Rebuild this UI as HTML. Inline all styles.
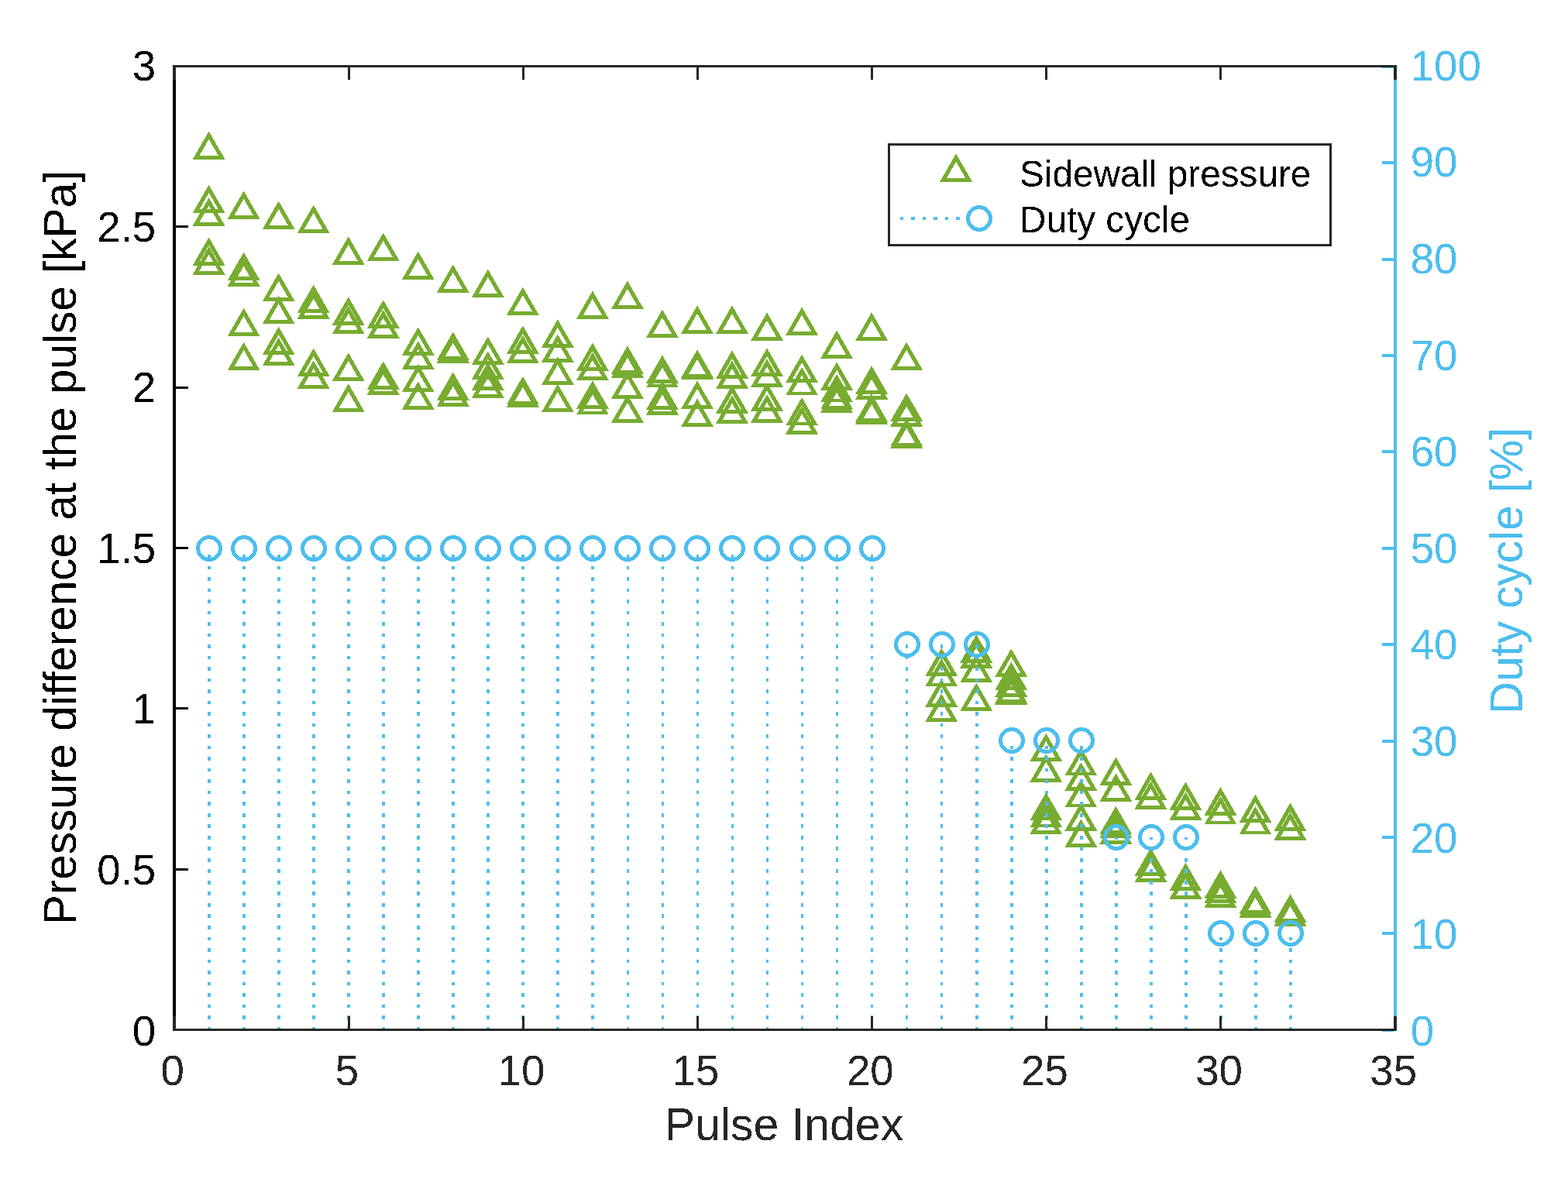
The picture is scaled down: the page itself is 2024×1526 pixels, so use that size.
<!DOCTYPE html>
<html><head><meta charset="utf-8"><title>Pulse plot</title>
<style>html,body{margin:0;padding:0;background:#fff;}svg{display:block;} .ce{shape-rendering:crispEdges;}text{font-family:"Liberation Sans",Arial,Helvetica,sans-serif;}</style>
</head><body>
<svg width="2024" height="1526" viewBox="0 0 2024 1526">
<defs><filter id="bin" x="0" y="0" width="100%" height="100%" color-interpolation-filters="sRGB"><feComponentTransfer><feFuncA type="discrete" tableValues="0 1"/></feComponentTransfer></filter></defs>
<rect width="2024" height="1526" fill="#fff"/>
<g shape-rendering="crispEdges">
<path d="M269.61 169.40L248.66 205.80H290.56ZM269.61 179.75L281.86 201.05H257.36ZM269.61 238.60L248.66 275.00H290.56ZM269.61 248.95L281.86 270.25H257.36ZM269.61 255.30L248.66 291.70H290.56ZM269.61 265.65L281.86 286.95H257.36ZM269.61 306.40L248.66 342.80H290.56ZM269.61 316.75L281.86 338.05H257.36ZM269.61 318.10L248.66 354.50H290.56ZM269.61 328.45L281.86 349.75H257.36ZM314.64 246.40L293.69 282.80H335.59ZM314.64 256.75L326.89 278.05H302.39ZM314.64 325.60L293.69 362.00H335.59ZM314.64 335.95L326.89 357.25H302.39ZM314.64 333.20L293.69 369.60H335.59ZM314.64 343.55L326.89 364.85H302.39ZM314.64 397.70L293.69 434.10H335.59ZM314.64 408.05L326.89 429.35H302.39ZM314.64 441.60L293.69 478.00H335.59ZM314.64 451.95L326.89 473.25H302.39ZM359.67 259.50L338.72 295.90H380.62ZM359.67 269.85L371.92 291.15H347.42ZM359.67 352.50L338.72 388.90H380.62ZM359.67 362.85L371.92 384.15H347.42ZM359.67 381.80L338.72 418.20H380.62ZM359.67 392.15L371.92 413.45H347.42ZM359.67 421.70L338.72 458.10H380.62ZM359.67 432.05L371.92 453.35H347.42ZM359.67 435.60L338.72 472.00H380.62ZM359.67 445.95L371.92 467.25H347.42ZM404.69 264.60L383.74 301.00H425.64ZM404.69 274.95L416.94 296.25H392.44ZM404.69 367.60L383.74 404.00H425.64ZM404.69 377.95L416.94 399.25H392.44ZM404.69 375.20L383.74 411.60H425.64ZM404.69 385.55L416.94 406.85H392.44ZM404.69 449.50L383.74 485.90H425.64ZM404.69 459.85L416.94 481.15H392.44ZM404.69 465.40L383.74 501.80H425.64ZM404.69 475.75L416.94 497.05H392.44ZM449.72 305.40L428.77 341.80H470.67ZM449.72 315.75L461.97 337.05H437.47ZM449.72 383.40L428.77 419.80H470.67ZM449.72 393.75L461.97 415.05H437.47ZM449.72 394.70L428.77 431.10H470.67ZM449.72 405.05L461.97 426.35H437.47ZM449.72 455.40L428.77 491.80H470.67ZM449.72 465.75L461.97 487.05H437.47ZM449.72 495.40L428.77 531.80H470.67ZM449.72 505.75L461.97 527.05H437.47ZM494.75 300.50L473.80 336.90H515.70ZM494.75 310.85L507.00 332.15H482.50ZM494.75 387.40L473.80 423.80H515.70ZM494.75 397.75L507.00 419.05H482.50ZM494.75 400.20L473.80 436.60H515.70ZM494.75 410.55L507.00 431.85H482.50ZM494.75 466.40L473.80 502.80H515.70ZM494.75 476.75L507.00 498.05H482.50ZM494.75 473.20L473.80 509.60H515.70ZM494.75 483.55L507.00 504.85H482.50ZM539.78 324.50L518.83 360.90H560.73ZM539.78 334.85L552.03 356.15H527.53ZM539.78 422.30L518.83 458.70H560.73ZM539.78 432.65L552.03 453.95H527.53ZM539.78 440.30L518.83 476.70H560.73ZM539.78 450.65L552.03 471.95H527.53ZM539.78 469.70L518.83 506.10H560.73ZM539.78 480.05L552.03 501.35H527.53ZM539.78 492.40L518.83 528.80H560.73ZM539.78 502.75L552.03 524.05H527.53ZM584.81 341.40L563.86 377.80H605.76ZM584.81 351.75L597.06 373.05H572.56ZM584.81 428.40L563.86 464.80H605.76ZM584.81 438.75L597.06 460.05H572.56ZM584.81 432.20L563.86 468.60H605.76ZM584.81 442.55L597.06 463.85H572.56ZM584.81 480.40L563.86 516.80H605.76ZM584.81 490.75L597.06 512.05H572.56ZM584.81 488.40L563.86 524.80H605.76ZM584.81 498.75L597.06 520.05H572.56ZM629.84 347.50L608.89 383.90H650.79ZM629.84 357.85L642.09 379.15H617.59ZM629.84 434.40L608.89 470.80H650.79ZM629.84 444.75L642.09 466.05H617.59ZM629.84 453.40L608.89 489.80H650.79ZM629.84 463.75L642.09 485.05H617.59ZM629.84 467.40L608.89 503.80H650.79ZM629.84 477.75L642.09 499.05H617.59ZM629.84 477.40L608.89 513.80H650.79ZM629.84 487.75L642.09 509.05H617.59ZM674.87 370.60L653.92 407.00H695.82ZM674.87 380.95L687.12 402.25H662.62ZM674.87 420.40L653.92 456.80H695.82ZM674.87 430.75L687.12 452.05H662.62ZM674.87 432.70L653.92 469.10H695.82ZM674.87 443.05L687.12 464.35H662.62ZM674.87 485.90L653.92 522.30H695.82ZM674.87 496.25L687.12 517.55H662.62ZM674.87 489.40L653.92 525.80H695.82ZM674.87 499.75L687.12 521.05H662.62ZM719.89 412.40L698.94 448.80H740.84ZM719.89 422.75L732.14 444.05H707.64ZM719.89 431.50L698.94 467.90H740.84ZM719.89 441.85L732.14 463.15H707.64ZM719.89 460.40L698.94 496.80H740.84ZM719.89 470.75L732.14 492.05H707.64ZM719.89 495.70L698.94 532.10H740.84ZM719.89 506.05L732.14 527.35H707.64ZM764.92 375.40L743.97 411.80H785.87ZM764.92 385.75L777.17 407.05H752.67ZM764.92 442.50L743.97 478.90H785.87ZM764.92 452.85L777.17 474.15H752.67ZM764.92 454.70L743.97 491.10H785.87ZM764.92 465.05L777.17 486.35H752.67ZM764.92 491.40L743.97 527.80H785.87ZM764.92 501.75L777.17 523.05H752.67ZM764.92 498.90L743.97 535.30H785.87ZM764.92 509.25L777.17 530.55H752.67ZM809.95 362.50L789.00 398.90H830.90ZM809.95 372.85L822.20 394.15H797.70ZM809.95 446.40L789.00 482.80H830.90ZM809.95 456.75L822.20 478.05H797.70ZM809.95 451.30L789.00 487.70H830.90ZM809.95 461.65L822.20 482.95H797.70ZM809.95 478.40L789.00 514.80H830.90ZM809.95 488.75L822.20 510.05H797.70ZM809.95 509.40L789.00 545.80H830.90ZM809.95 519.75L822.20 541.05H797.70ZM854.98 399.60L834.03 436.00H875.93ZM854.98 409.95L867.23 431.25H842.73ZM854.98 458.40L834.03 494.80H875.93ZM854.98 468.75L867.23 490.05H842.73ZM854.98 463.90L834.03 500.30H875.93ZM854.98 474.25L867.23 495.55H842.73ZM854.98 492.60L834.03 529.00H875.93ZM854.98 502.95L867.23 524.25H842.73ZM854.98 499.10L834.03 535.50H875.93ZM854.98 509.45L867.23 530.75H842.73ZM900.01 394.40L879.06 430.80H920.96ZM900.01 404.75L912.26 426.05H887.76ZM900.01 451.40L879.06 487.80H920.96ZM900.01 461.75L912.26 483.05H887.76ZM900.01 453.40L879.06 489.80H920.96ZM900.01 463.75L912.26 485.05H887.76ZM900.01 491.50L879.06 527.90H920.96ZM900.01 501.85L912.26 523.15H887.76ZM900.01 514.50L879.06 550.90H920.96ZM900.01 524.85L912.26 546.15H887.76ZM945.04 394.40L924.09 430.80H965.99ZM945.04 404.75L957.29 426.05H932.79ZM945.04 452.40L924.09 488.80H965.99ZM945.04 462.75L957.29 484.05H932.79ZM945.04 465.40L924.09 501.80H965.99ZM945.04 475.75L957.29 497.05H932.79ZM945.04 497.30L924.09 533.70H965.99ZM945.04 507.65L957.29 528.95H932.79ZM945.04 510.20L924.09 546.60H965.99ZM945.04 520.55L957.29 541.85H932.79ZM990.07 403.40L969.12 439.80H1011.02ZM990.07 413.75L1002.32 435.05H977.82ZM990.07 449.50L969.12 485.90H1011.02ZM990.07 459.85L1002.32 481.15H977.82ZM990.07 463.30L969.12 499.70H1011.02ZM990.07 473.65L1002.32 494.95H977.82ZM990.07 494.10L969.12 530.50H1011.02ZM990.07 504.45L1002.32 525.75H977.82ZM990.07 509.10L969.12 545.50H1011.02ZM990.07 519.45L1002.32 540.75H977.82ZM1035.09 396.40L1014.14 432.80H1056.04ZM1035.09 406.75L1047.34 428.05H1022.84ZM1035.09 457.60L1014.14 494.00H1056.04ZM1035.09 467.95L1047.34 489.25H1022.84ZM1035.09 474.00L1014.14 510.40H1056.04ZM1035.09 484.35L1047.34 505.65H1022.84ZM1035.09 513.00L1014.14 549.40H1056.04ZM1035.09 523.35L1047.34 544.65H1022.84ZM1035.09 524.10L1014.14 560.50H1056.04ZM1035.09 534.45L1047.34 555.75H1022.84ZM1080.12 426.60L1059.17 463.00H1101.07ZM1080.12 436.95L1092.37 458.25H1067.87ZM1080.12 467.40L1059.17 503.80H1101.07ZM1080.12 477.75L1092.37 499.05H1067.87ZM1080.12 482.90L1059.17 519.30H1101.07ZM1080.12 493.25L1092.37 514.55H1067.87ZM1080.12 491.90L1059.17 528.30H1101.07ZM1080.12 502.25L1092.37 523.55H1067.87ZM1080.12 496.40L1059.17 532.80H1101.07ZM1080.12 506.75L1092.37 528.05H1067.87ZM1125.15 403.40L1104.20 439.80H1146.10ZM1125.15 413.75L1137.40 435.05H1112.90ZM1125.15 472.40L1104.20 508.80H1146.10ZM1125.15 482.75L1137.40 504.05H1112.90ZM1125.15 479.10L1104.20 515.50H1146.10ZM1125.15 489.45L1137.40 510.75H1112.90ZM1125.15 508.40L1104.20 544.80H1146.10ZM1125.15 518.75L1137.40 540.05H1112.90ZM1125.15 511.40L1104.20 547.80H1146.10ZM1125.15 521.75L1137.40 543.05H1112.90ZM1170.18 441.50L1149.23 477.90H1191.13ZM1170.18 451.85L1182.43 473.15H1157.93ZM1170.18 507.50L1149.23 543.90H1191.13ZM1170.18 517.85L1182.43 539.15H1157.93ZM1170.18 514.30L1149.23 550.70H1191.13ZM1170.18 524.65L1182.43 545.95H1157.93ZM1170.18 539.90L1149.23 576.30H1191.13ZM1170.18 550.25L1182.43 571.55H1157.93ZM1170.18 542.40L1149.23 578.80H1191.13ZM1170.18 552.75L1182.43 574.05H1157.93ZM1215.21 836.60L1194.26 873.00H1236.16ZM1215.21 846.95L1227.46 868.25H1202.96ZM1215.21 849.90L1194.26 886.30H1236.16ZM1215.21 860.25L1227.46 881.55H1202.96ZM1215.21 876.10L1194.26 912.50H1236.16ZM1215.21 886.45L1227.46 907.75H1202.96ZM1215.21 895.40L1194.26 931.80H1236.16ZM1215.21 905.75L1227.46 927.05H1202.96ZM1260.24 819.10L1239.29 855.50H1281.19ZM1260.24 829.45L1272.49 850.75H1247.99ZM1260.24 826.10L1239.29 862.50H1281.19ZM1260.24 836.45L1272.49 857.75H1247.99ZM1260.24 844.50L1239.29 880.90H1281.19ZM1260.24 854.85L1272.49 876.15H1247.99ZM1260.24 881.50L1239.29 917.90H1281.19ZM1260.24 891.85L1272.49 913.15H1247.99ZM1305.27 837.40L1284.32 873.80H1326.22ZM1305.27 847.75L1317.52 869.05H1293.02ZM1305.27 854.50L1284.32 890.90H1326.22ZM1305.27 864.85L1317.52 886.15H1293.02ZM1305.27 863.30L1284.32 899.70H1326.22ZM1305.27 873.65L1317.52 894.95H1293.02ZM1305.27 871.40L1284.32 907.80H1326.22ZM1305.27 881.75L1317.52 903.05H1293.02ZM1305.27 873.10L1284.32 909.50H1326.22ZM1305.27 883.45L1317.52 904.75H1293.02ZM1350.29 946.70L1329.34 983.10H1371.24ZM1350.29 957.05L1362.54 978.35H1338.04ZM1350.29 973.40L1329.34 1009.80H1371.24ZM1350.29 983.75L1362.54 1005.05H1338.04ZM1350.29 1023.00L1329.34 1059.40H1371.24ZM1350.29 1033.35L1362.54 1054.65H1338.04ZM1350.29 1031.90L1329.34 1068.30H1371.24ZM1350.29 1042.25L1362.54 1063.55H1338.04ZM1350.29 1040.60L1329.34 1077.00H1371.24ZM1350.29 1050.95L1362.54 1072.25H1338.04ZM1395.32 965.00L1374.37 1001.40H1416.27ZM1395.32 975.35L1407.57 996.65H1383.07ZM1395.32 984.20L1374.37 1020.60H1416.27ZM1395.32 994.55L1407.57 1015.85H1383.07ZM1395.32 1006.00L1374.37 1042.40H1416.27ZM1395.32 1016.35L1407.57 1037.65H1383.07ZM1395.32 1036.10L1374.37 1072.50H1416.27ZM1395.32 1046.45L1407.57 1067.75H1383.07ZM1395.32 1057.40L1374.37 1093.80H1416.27ZM1395.32 1067.75L1407.57 1089.05H1383.07ZM1440.35 977.40L1419.40 1013.80H1461.30ZM1440.35 987.75L1452.60 1009.05H1428.10ZM1440.35 998.40L1419.40 1034.80H1461.30ZM1440.35 1008.75L1452.60 1030.05H1428.10ZM1440.35 1040.70L1419.40 1077.10H1461.30ZM1440.35 1051.05L1452.60 1072.35H1428.10ZM1440.35 1045.60L1419.40 1082.00H1461.30ZM1440.35 1055.95L1452.60 1077.25H1428.10ZM1440.35 1053.20L1419.40 1089.60H1461.30ZM1440.35 1063.55L1452.60 1084.85H1428.10ZM1485.38 996.50L1464.43 1032.90H1506.33ZM1485.38 1006.85L1497.63 1028.15H1473.13ZM1485.38 1008.40L1464.43 1044.80H1506.33ZM1485.38 1018.75L1497.63 1040.05H1473.13ZM1485.38 1094.70L1464.43 1131.10H1506.33ZM1485.38 1105.05L1497.63 1126.35H1473.13ZM1485.38 1102.50L1464.43 1138.90H1506.33ZM1485.38 1112.85L1497.63 1134.15H1473.13ZM1530.41 1009.40L1509.46 1045.80H1551.36ZM1530.41 1019.75L1542.66 1041.05H1518.16ZM1530.41 1022.30L1509.46 1058.70H1551.36ZM1530.41 1032.65L1542.66 1053.95H1518.16ZM1530.41 1113.80L1509.46 1150.20H1551.36ZM1530.41 1124.15L1542.66 1145.45H1518.16ZM1530.41 1124.30L1509.46 1160.70H1551.36ZM1530.41 1134.65L1542.66 1155.95H1518.16ZM1575.44 1016.20L1554.49 1052.60H1596.39ZM1575.44 1026.55L1587.69 1047.85H1563.19ZM1575.44 1027.90L1554.49 1064.30H1596.39ZM1575.44 1038.25L1587.69 1059.55H1563.19ZM1575.44 1123.40L1554.49 1159.80H1596.39ZM1575.44 1133.75L1587.69 1155.05H1563.19ZM1575.44 1129.40L1554.49 1165.80H1596.39ZM1575.44 1139.75L1587.69 1161.05H1563.19ZM1575.44 1135.40L1554.49 1171.80H1596.39ZM1575.44 1145.75L1587.69 1167.05H1563.19ZM1620.47 1025.60L1599.52 1062.00H1641.42ZM1620.47 1035.95L1632.72 1057.25H1608.22ZM1620.47 1041.00L1599.52 1077.40H1641.42ZM1620.47 1051.35L1632.72 1072.65H1608.22ZM1620.47 1143.50L1599.52 1179.90H1641.42ZM1620.47 1153.85L1632.72 1175.15H1608.22ZM1620.47 1148.40L1599.52 1184.80H1641.42ZM1620.47 1158.75L1632.72 1180.05H1608.22ZM1665.49 1036.50L1644.54 1072.90H1686.44ZM1665.49 1046.85L1677.74 1068.15H1653.24ZM1665.49 1048.20L1644.54 1084.60H1686.44ZM1665.49 1058.55L1677.74 1079.85H1653.24ZM1665.49 1154.40L1644.54 1190.80H1686.44ZM1665.49 1164.75L1677.74 1186.05H1653.24ZM1665.49 1159.40L1644.54 1195.80H1686.44ZM1665.49 1169.75L1677.74 1191.05H1653.24Z" fill="#77ac30" fill-rule="nonzero"/>
<line x1="270.03" y1="1330.2" x2="270.03" y2="707.50" stroke="#4dbeee" stroke-width="3.7" stroke-dasharray="4.6 9.91"/>
<line x1="315.06" y1="1330.2" x2="315.06" y2="707.50" stroke="#4dbeee" stroke-width="3.7" stroke-dasharray="4.6 9.91"/>
<line x1="360.09" y1="1330.2" x2="360.09" y2="707.50" stroke="#4dbeee" stroke-width="3.7" stroke-dasharray="4.6 9.91"/>
<line x1="405.11" y1="1330.2" x2="405.11" y2="707.50" stroke="#4dbeee" stroke-width="3.7" stroke-dasharray="4.6 9.91"/>
<line x1="450.14" y1="1330.2" x2="450.14" y2="707.50" stroke="#4dbeee" stroke-width="3.7" stroke-dasharray="4.6 9.91"/>
<line x1="495.17" y1="1330.2" x2="495.17" y2="707.50" stroke="#4dbeee" stroke-width="3.7" stroke-dasharray="4.6 9.91"/>
<line x1="540.20" y1="1330.2" x2="540.20" y2="707.50" stroke="#4dbeee" stroke-width="3.7" stroke-dasharray="4.6 9.91"/>
<line x1="585.23" y1="1330.2" x2="585.23" y2="707.50" stroke="#4dbeee" stroke-width="3.7" stroke-dasharray="4.6 9.91"/>
<line x1="630.26" y1="1330.2" x2="630.26" y2="707.50" stroke="#4dbeee" stroke-width="3.7" stroke-dasharray="4.6 9.91"/>
<line x1="675.29" y1="1330.2" x2="675.29" y2="707.50" stroke="#4dbeee" stroke-width="3.7" stroke-dasharray="4.6 9.91"/>
<line x1="720.31" y1="1330.2" x2="720.31" y2="707.50" stroke="#4dbeee" stroke-width="3.7" stroke-dasharray="4.6 9.91"/>
<line x1="765.34" y1="1330.2" x2="765.34" y2="707.50" stroke="#4dbeee" stroke-width="3.7" stroke-dasharray="4.6 9.91"/>
<line x1="810.37" y1="1330.2" x2="810.37" y2="707.50" stroke="#4dbeee" stroke-width="3.7" stroke-dasharray="4.6 9.91"/>
<line x1="855.40" y1="1330.2" x2="855.40" y2="707.50" stroke="#4dbeee" stroke-width="3.7" stroke-dasharray="4.6 9.91"/>
<line x1="900.43" y1="1330.2" x2="900.43" y2="707.50" stroke="#4dbeee" stroke-width="3.7" stroke-dasharray="4.6 9.91"/>
<line x1="945.46" y1="1330.2" x2="945.46" y2="707.50" stroke="#4dbeee" stroke-width="3.7" stroke-dasharray="4.6 9.91"/>
<line x1="990.49" y1="1330.2" x2="990.49" y2="707.50" stroke="#4dbeee" stroke-width="3.7" stroke-dasharray="4.6 9.91"/>
<line x1="1035.51" y1="1330.2" x2="1035.51" y2="707.50" stroke="#4dbeee" stroke-width="3.7" stroke-dasharray="4.6 9.91"/>
<line x1="1080.54" y1="1330.2" x2="1080.54" y2="707.50" stroke="#4dbeee" stroke-width="3.7" stroke-dasharray="4.6 9.91"/>
<line x1="1125.57" y1="1330.2" x2="1125.57" y2="707.50" stroke="#4dbeee" stroke-width="3.7" stroke-dasharray="4.6 9.91"/>
<line x1="1170.60" y1="1330.2" x2="1170.60" y2="831.90" stroke="#4dbeee" stroke-width="3.7" stroke-dasharray="4.6 9.91"/>
<line x1="1215.63" y1="1330.2" x2="1215.63" y2="831.90" stroke="#4dbeee" stroke-width="3.7" stroke-dasharray="4.6 9.91"/>
<line x1="1260.66" y1="1330.2" x2="1260.66" y2="831.90" stroke="#4dbeee" stroke-width="3.7" stroke-dasharray="4.6 9.91"/>
<line x1="1305.69" y1="1330.2" x2="1305.69" y2="956.30" stroke="#4dbeee" stroke-width="3.7" stroke-dasharray="4.6 9.91"/>
<line x1="1350.71" y1="1330.2" x2="1350.71" y2="956.30" stroke="#4dbeee" stroke-width="3.7" stroke-dasharray="4.6 9.91"/>
<line x1="1395.74" y1="1330.2" x2="1395.74" y2="956.30" stroke="#4dbeee" stroke-width="3.7" stroke-dasharray="4.6 9.91"/>
<line x1="1440.77" y1="1330.2" x2="1440.77" y2="1080.70" stroke="#4dbeee" stroke-width="3.7" stroke-dasharray="4.6 9.91"/>
<line x1="1485.80" y1="1330.2" x2="1485.80" y2="1080.70" stroke="#4dbeee" stroke-width="3.7" stroke-dasharray="4.6 9.91"/>
<line x1="1530.83" y1="1330.2" x2="1530.83" y2="1080.70" stroke="#4dbeee" stroke-width="3.7" stroke-dasharray="4.6 9.91"/>
<line x1="1575.86" y1="1330.2" x2="1575.86" y2="1205.10" stroke="#4dbeee" stroke-width="3.7" stroke-dasharray="4.6 9.91"/>
<line x1="1620.89" y1="1330.2" x2="1620.89" y2="1205.10" stroke="#4dbeee" stroke-width="3.7" stroke-dasharray="4.6 9.91"/>
<line x1="1665.91" y1="1330.2" x2="1665.91" y2="1205.10" stroke="#4dbeee" stroke-width="3.7" stroke-dasharray="4.6 9.91"/>
<circle cx="270" cy="708" r="14.5" fill="none" stroke="#4dbeee" stroke-width="5.0"/>
<circle cx="315" cy="708" r="14.5" fill="none" stroke="#4dbeee" stroke-width="5.0"/>
<circle cx="360" cy="708" r="14.5" fill="none" stroke="#4dbeee" stroke-width="5.0"/>
<circle cx="405" cy="708" r="14.5" fill="none" stroke="#4dbeee" stroke-width="5.0"/>
<circle cx="450" cy="708" r="14.5" fill="none" stroke="#4dbeee" stroke-width="5.0"/>
<circle cx="495" cy="708" r="14.5" fill="none" stroke="#4dbeee" stroke-width="5.0"/>
<circle cx="540" cy="708" r="14.5" fill="none" stroke="#4dbeee" stroke-width="5.0"/>
<circle cx="585" cy="708" r="14.5" fill="none" stroke="#4dbeee" stroke-width="5.0"/>
<circle cx="630" cy="708" r="14.5" fill="none" stroke="#4dbeee" stroke-width="5.0"/>
<circle cx="675" cy="708" r="14.5" fill="none" stroke="#4dbeee" stroke-width="5.0"/>
<circle cx="720" cy="708" r="14.5" fill="none" stroke="#4dbeee" stroke-width="5.0"/>
<circle cx="765" cy="708" r="14.5" fill="none" stroke="#4dbeee" stroke-width="5.0"/>
<circle cx="810" cy="708" r="14.5" fill="none" stroke="#4dbeee" stroke-width="5.0"/>
<circle cx="855" cy="708" r="14.5" fill="none" stroke="#4dbeee" stroke-width="5.0"/>
<circle cx="900" cy="708" r="14.5" fill="none" stroke="#4dbeee" stroke-width="5.0"/>
<circle cx="945" cy="708" r="14.5" fill="none" stroke="#4dbeee" stroke-width="5.0"/>
<circle cx="990" cy="708" r="14.5" fill="none" stroke="#4dbeee" stroke-width="5.0"/>
<circle cx="1036" cy="708" r="14.5" fill="none" stroke="#4dbeee" stroke-width="5.0"/>
<circle cx="1081" cy="708" r="14.5" fill="none" stroke="#4dbeee" stroke-width="5.0"/>
<circle cx="1126" cy="708" r="14.5" fill="none" stroke="#4dbeee" stroke-width="5.0"/>
<circle cx="1171" cy="832" r="14.5" fill="none" stroke="#4dbeee" stroke-width="5.0"/>
<circle cx="1216" cy="832" r="14.5" fill="none" stroke="#4dbeee" stroke-width="5.0"/>
<circle cx="1261" cy="832" r="14.5" fill="none" stroke="#4dbeee" stroke-width="5.0"/>
<circle cx="1306" cy="956" r="14.5" fill="none" stroke="#4dbeee" stroke-width="5.0"/>
<circle cx="1351" cy="956" r="14.5" fill="none" stroke="#4dbeee" stroke-width="5.0"/>
<circle cx="1396" cy="956" r="14.5" fill="none" stroke="#4dbeee" stroke-width="5.0"/>
<circle cx="1441" cy="1081" r="14.5" fill="none" stroke="#4dbeee" stroke-width="5.0"/>
<circle cx="1486" cy="1081" r="14.5" fill="none" stroke="#4dbeee" stroke-width="5.0"/>
<circle cx="1531" cy="1081" r="14.5" fill="none" stroke="#4dbeee" stroke-width="5.0"/>
<circle cx="1576" cy="1205" r="14.5" fill="none" stroke="#4dbeee" stroke-width="5.0"/>
<circle cx="1621" cy="1205" r="14.5" fill="none" stroke="#4dbeee" stroke-width="5.0"/>
<circle cx="1666" cy="1205" r="14.5" fill="none" stroke="#4dbeee" stroke-width="5.0"/>
<rect x="223" y="84" width="4" height="1247" fill="#000"/>
<rect x="227" y="1328" width="16" height="3" fill="#000"/>
<rect x="227" y="1121" width="16" height="3" fill="#000"/>
<rect x="227" y="913" width="16" height="3" fill="#000"/>
<rect x="227" y="706" width="16" height="3" fill="#000"/>
<rect x="227" y="499" width="16" height="3" fill="#000"/>
<rect x="227" y="291" width="16" height="3" fill="#000"/>
<rect x="227" y="84" width="16" height="3" fill="#000"/>
<rect x="1799" y="84" width="4" height="1247" fill="#4dbeee"/>
<rect x="1784" y="1328" width="15" height="4" fill="#4dbeee"/>
<rect x="1784" y="1203" width="15" height="4" fill="#4dbeee"/>
<rect x="1784" y="1079" width="15" height="4" fill="#4dbeee"/>
<rect x="1784" y="955" width="15" height="4" fill="#4dbeee"/>
<rect x="1784" y="830" width="15" height="4" fill="#4dbeee"/>
<rect x="1784" y="706" width="15" height="4" fill="#4dbeee"/>
<rect x="1784" y="581" width="15" height="4" fill="#4dbeee"/>
<rect x="1784" y="457" width="15" height="4" fill="#4dbeee"/>
<rect x="1784" y="333" width="15" height="4" fill="#4dbeee"/>
<rect x="1784" y="208" width="15" height="4" fill="#4dbeee"/>
<rect x="1784" y="84" width="15" height="4" fill="#4dbeee"/>
<rect x="223" y="84" width="1580" height="3" fill="#262626"/>
<rect x="223" y="1328" width="1580" height="3" fill="#262626"/>
<rect x="223" y="1312" width="4" height="16" fill="#262626"/>
<rect x="223" y="87" width="4" height="16" fill="#262626"/>
<rect x="449" y="1312" width="3" height="16" fill="#262626"/>
<rect x="449" y="87" width="3" height="16" fill="#262626"/>
<rect x="674" y="1312" width="3" height="16" fill="#262626"/>
<rect x="674" y="87" width="3" height="16" fill="#262626"/>
<rect x="899" y="1312" width="3" height="16" fill="#262626"/>
<rect x="899" y="87" width="3" height="16" fill="#262626"/>
<rect x="1124" y="1312" width="3" height="16" fill="#262626"/>
<rect x="1124" y="87" width="3" height="16" fill="#262626"/>
<rect x="1349" y="1312" width="3" height="16" fill="#262626"/>
<rect x="1349" y="87" width="3" height="16" fill="#262626"/>
<rect x="1574" y="1312" width="3" height="16" fill="#262626"/>
<rect x="1574" y="87" width="3" height="16" fill="#262626"/>
<rect x="1799" y="1312" width="4" height="16" fill="#262626"/>
<rect x="1799" y="87" width="4" height="16" fill="#262626"/>
</g>
<g filter="url(#bin)">
<g font-size="54.6" fill="#262626" text-anchor="middle">
<text x="222.70" y="1400.6">0</text>
<text x="447.84" y="1400.6">5</text>
<text x="672.99" y="1400.6">10</text>
<text x="898.13" y="1400.6">15</text>
<text x="1123.27" y="1400.6">20</text>
<text x="1348.41" y="1400.6">25</text>
<text x="1573.56" y="1400.6">30</text>
<text x="1798.70" y="1400.6">35</text>
</g>
<g font-size="54.6" fill="#000" text-anchor="end">
<text x="201.2" y="1349.60">0</text>
<text x="201.2" y="1142.00">0.5</text>
<text x="201.2" y="934.40">1</text>
<text x="201.2" y="726.80">1.5</text>
<text x="201.2" y="519.20">2</text>
<text x="201.2" y="311.60">2.5</text>
<text x="201.2" y="104.00">3</text>
</g>
<g font-size="54.6" fill="#4dbeee" text-anchor="start">
<text x="1820.7" y="1349.90">0</text>
<text x="1820.7" y="1225.29">10</text>
<text x="1820.7" y="1100.68">20</text>
<text x="1820.7" y="976.07">30</text>
<text x="1820.7" y="851.46">40</text>
<text x="1820.7" y="726.85">50</text>
<text x="1820.7" y="602.24">60</text>
<text x="1820.7" y="477.63">70</text>
<text x="1820.7" y="353.02">80</text>
<text x="1820.7" y="228.41">90</text>
<text x="1820.7" y="103.80">100</text>
</g>
<text x="1012" y="1471.6" font-size="59.0" fill="#262626" text-anchor="middle">Pulse Index</text>
<text transform="translate(97.9 706.9) rotate(-90)" font-size="58.5" fill="#000" text-anchor="middle">Pressure difference at the pulse [kPa]</text>
<text transform="translate(1964.9 736.95) rotate(-90)" font-size="58.5" fill="#4dbeee" text-anchor="middle">Duty cycle [%]</text>
</g>
<g shape-rendering="crispEdges">
<rect x="1147.5" y="186.5" width="570" height="130" fill="#fff" stroke="#262626" stroke-width="2.6"/>
<path d="M1234.10 198.40L1213.15 234.80H1255.05ZM1234.10 208.75L1246.35 230.05H1221.85Z" fill="#77ac30"/>
<line x1="1161.8" y1="282" x2="1248" y2="282" stroke="#4dbeee" stroke-width="3.7" stroke-dasharray="4.6 9.91"/>
<circle cx="1264" cy="282" r="14.5" fill="none" stroke="#4dbeee" stroke-width="5.0"/>
</g>
<g filter="url(#bin)">
<text x="1316" y="241.2" font-size="47.7" fill="#000">Sidewall pressure</text>
<text x="1316" y="299.9" font-size="47.7" fill="#000">Duty cycle</text>
</g>
</svg>
</body></html>
